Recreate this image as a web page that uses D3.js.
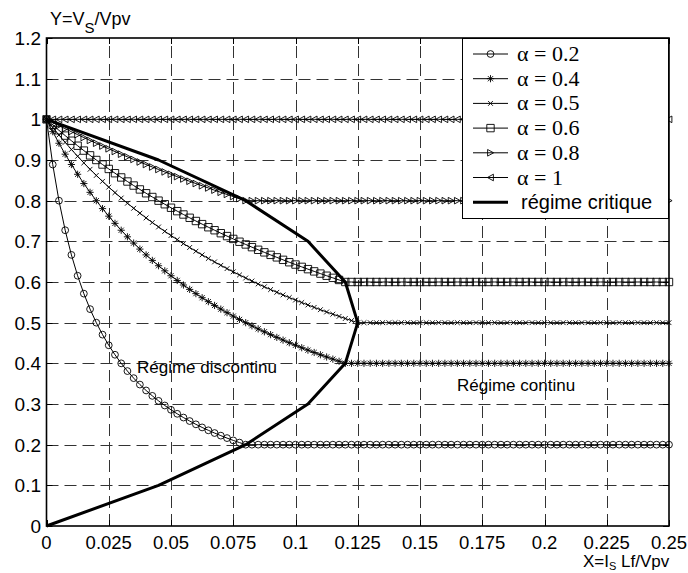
<!DOCTYPE html>
<html><head><meta charset="utf-8">
<script src="https://cdn.jsdelivr.net/npm/d3@7"></script>
<style>body{margin:0;background:#fff}</style>
</head><body><svg id="c" width="688" height="573"></svg>
<script>
// ---------------- data ----------------
const xValues = [
0,0.0025,0.005,0.0075,0.01,0.0125,0.015,0.0175,0.02,0.0225,
0.025,0.0275,0.03,0.0325,0.035,0.0375,0.04,0.0425,0.045,0.0475,
0.05,0.0525,0.055,0.0575,0.06,0.0625,0.065,0.0675,0.07,0.0725,
0.075,0.0775,0.08,0.0825,0.085,0.0875,0.09,0.0925,0.095,0.0975,
0.1,0.1025,0.105,0.1075,0.11,0.1125,0.115,0.1175,0.12,0.1225,
0.125,0.1275,0.13,0.1325,0.135,0.1375,0.14,0.1425,0.145,0.1475,
0.15,0.1525,0.155,0.1575,0.16,0.1625,0.165,0.1675,0.17,0.1725,
0.175,0.1775,0.18,0.1825,0.185,0.1875,0.19,0.1925,0.195,0.1975,
0.2,0.2025,0.205,0.2075,0.21,0.2125,0.215,0.2175,0.22,0.2225,
0.225,0.2275,0.23,0.2325,0.235,0.2375,0.24,0.2425,0.245,0.2475,
0.25];

const yAlpha02 = [
1,0.8889,0.8,0.7273,0.6667,0.6154,0.5714,0.5333,0.5,0.4706,
0.4444,0.4211,0.4,0.381,0.3636,0.3478,0.3333,0.32,0.3077,0.2963,
0.2857,0.2759,0.2667,0.2581,0.25,0.2424,0.2353,0.2286,0.2222,0.2162,
0.2105,0.2051,0.2,0.2,0.2,0.2,0.2,0.2,0.2,0.2,
0.2,0.2,0.2,0.2,0.2,0.2,0.2,0.2,0.2,0.2,
0.2,0.2,0.2,0.2,0.2,0.2,0.2,0.2,0.2,0.2,
0.2,0.2,0.2,0.2,0.2,0.2,0.2,0.2,0.2,0.2,
0.2,0.2,0.2,0.2,0.2,0.2,0.2,0.2,0.2,0.2,
0.2,0.2,0.2,0.2,0.2,0.2,0.2,0.2,0.2,0.2,
0.2,0.2,0.2,0.2,0.2,0.2,0.2,0.2,0.2,0.2,
0.2];

const yAlpha04 = [
1,0.9697,0.9412,0.9143,0.8889,0.8649,0.8421,0.8205,0.8,0.7805,
0.7619,0.7442,0.7273,0.7111,0.6957,0.6809,0.6667,0.6531,0.64,0.6275,
0.6154,0.6038,0.5926,0.5818,0.5714,0.5614,0.5517,0.5424,0.5333,0.5246,
0.5161,0.5079,0.5,0.4923,0.4848,0.4776,0.4706,0.4638,0.4571,0.4507,
0.4444,0.4384,0.4324,0.4267,0.4211,0.4156,0.4103,0.4051,0.4,0.4,
0.4,0.4,0.4,0.4,0.4,0.4,0.4,0.4,0.4,0.4,
0.4,0.4,0.4,0.4,0.4,0.4,0.4,0.4,0.4,0.4,
0.4,0.4,0.4,0.4,0.4,0.4,0.4,0.4,0.4,0.4,
0.4,0.4,0.4,0.4,0.4,0.4,0.4,0.4,0.4,0.4,
0.4,0.4,0.4,0.4,0.4,0.4,0.4,0.4,0.4,0.4,
0.4];

const yAlpha05 = [
1,0.9804,0.9615,0.9434,0.9259,0.9091,0.8929,0.8772,0.8621,0.8475,
0.8333,0.8197,0.8065,0.7937,0.7813,0.7692,0.7576,0.7463,0.7353,0.7246,
0.7143,0.7042,0.6944,0.6849,0.6757,0.6667,0.6579,0.6494,0.641,0.6329,
0.625,0.6173,0.6098,0.6024,0.5952,0.5882,0.5814,0.5747,0.5682,0.5618,
0.5556,0.5495,0.5435,0.5376,0.5319,0.5263,0.5208,0.5155,0.5102,0.5051,
0.5,0.5,0.5,0.5,0.5,0.5,0.5,0.5,0.5,0.5,
0.5,0.5,0.5,0.5,0.5,0.5,0.5,0.5,0.5,0.5,
0.5,0.5,0.5,0.5,0.5,0.5,0.5,0.5,0.5,0.5,
0.5,0.5,0.5,0.5,0.5,0.5,0.5,0.5,0.5,0.5,
0.5,0.5,0.5,0.5,0.5,0.5,0.5,0.5,0.5,0.5,
0.5];

const yAlpha06 = [
1,0.9863,0.973,0.96,0.9474,0.9351,0.9231,0.9114,0.9,0.8889,
0.878,0.8675,0.8571,0.8471,0.8372,0.8276,0.8182,0.809,0.8,0.7912,
0.7826,0.7742,0.766,0.7579,0.75,0.7423,0.7347,0.7273,0.72,0.7129,
0.7059,0.699,0.6923,0.6857,0.6792,0.6729,0.6667,0.6606,0.6545,0.6486,
0.6429,0.6372,0.6316,0.6261,0.6207,0.6154,0.6102,0.605,0.6,0.6,
0.6,0.6,0.6,0.6,0.6,0.6,0.6,0.6,0.6,0.6,
0.6,0.6,0.6,0.6,0.6,0.6,0.6,0.6,0.6,0.6,
0.6,0.6,0.6,0.6,0.6,0.6,0.6,0.6,0.6,0.6,
0.6,0.6,0.6,0.6,0.6,0.6,0.6,0.6,0.6,0.6,
0.6,0.6,0.6,0.6,0.6,0.6,0.6,0.6,0.6,0.6,
0.6];

const yAlpha08 = [
1,0.9922,0.9846,0.9771,0.9697,0.9624,0.9552,0.9481,0.9412,0.9343,
0.9275,0.9209,0.9143,0.9078,0.9014,0.8951,0.8889,0.8828,0.8767,0.8707,
0.8649,0.8591,0.8533,0.8477,0.8421,0.8366,0.8312,0.8258,0.8205,0.8153,
0.8101,0.805,0.8,0.8,0.8,0.8,0.8,0.8,0.8,0.8,
0.8,0.8,0.8,0.8,0.8,0.8,0.8,0.8,0.8,0.8,
0.8,0.8,0.8,0.8,0.8,0.8,0.8,0.8,0.8,0.8,
0.8,0.8,0.8,0.8,0.8,0.8,0.8,0.8,0.8,0.8,
0.8,0.8,0.8,0.8,0.8,0.8,0.8,0.8,0.8,0.8,
0.8,0.8,0.8,0.8,0.8,0.8,0.8,0.8,0.8,0.8,
0.8,0.8,0.8,0.8,0.8,0.8,0.8,0.8,0.8,0.8,
0.8];

const yAlpha10 = [
1,1,1,1,1,1,1,1,1,1,
1,1,1,1,1,1,1,1,1,1,
1,1,1,1,1,1,1,1,1,1,
1,1,1,1,1,1,1,1,1,1,
1,1,1,1,1,1,1,1,1,1,
1,1,1,1,1,1,1,1,1,1,
1,1,1,1,1,1,1,1,1,1,
1,1,1,1,1,1,1,1,1,1,
1,1,1,1,1,1,1,1,1,1,
1,1,1,1,1,1,1,1,1,1,
1];

const critX = [0,0.045,0.08,0.105,0.12,0.125,0.12,0.105,0.08,0.045,0];
const critY = [0,0.1,0.2,0.3,0.4,0.5,0.6,0.7,0.8,0.9,1];

const seriesLabels = ["α = 0.2","α = 0.4","α = 0.5","α = 0.6","α = 0.8","α = 1"];
const criticalLabel = "régime critique";
const xTickValues = [0,0.025,0.05,0.075,0.1,0.125,0.15,0.175,0.2,0.225,0.25];
const xTickLabels = ["0","0.025","0.05","0.075","0.1","0.125","0.15","0.175","0.2","0.225","0.25"];
const yTickValues = [0,0.1,0.2,0.3,0.4,0.5,0.6,0.7,0.8,0.9,1,1.1,1.2];
const yTickLabels = ["0","0.1","0.2","0.3","0.4","0.5","0.6","0.7","0.8","0.9","1","1.1","1.2"];

// ---------------- drawing ----------------
const svg = d3.select("#c");
const L = 46.5, R = 669, T = 38, B = 526;
const x = d3.scaleLinear().domain([0,0.25]).range([L,R]);
const y = d3.scaleLinear().domain([0,1.2]).range([B,T]);
const sans = "'Liberation Sans', Arial, Helvetica, sans-serif";
const serif = "'Liberation Serif', 'Times New Roman', serif";

svg.append("rect").attr("width",688).attr("height",573).attr("fill","#fff");

// grid
const grid = svg.append("g").attr("stroke","#333").attr("stroke-width",1).attr("stroke-dasharray","12,6").attr("fill","none");
xTickValues.slice(1,-1).forEach(v=>{
  grid.append("line").attr("x1",Math.round(x(v))+0.5).attr("x2",Math.round(x(v))+0.5).attr("y1",B).attr("y2",T);
});
yTickValues.slice(1,-1).forEach(v=>{
  grid.append("line").attr("y1",Math.round(y(v))+0.5).attr("y2",Math.round(y(v))+0.5).attr("x1",L).attr("x2",R);
});

// ticks (inward, all four sides)
const ticks = svg.append("g").attr("stroke","#000").attr("stroke-width",1);
xTickValues.forEach(v=>{
  const px = Math.round(x(v))+0.5;
  ticks.append("line").attr("x1",px).attr("x2",px).attr("y1",B).attr("y2",B-6);
  ticks.append("line").attr("x1",px).attr("x2",px).attr("y1",T).attr("y2",T+6);
});
yTickValues.forEach(v=>{
  const py = Math.round(y(v))+0.5;
  ticks.append("line").attr("y1",py).attr("y2",py).attr("x1",L).attr("x2",L+6);
  ticks.append("line").attr("y1",py).attr("y2",py).attr("x1",R).attr("x2",R-6);
});

// tick labels
const xt = svg.append("g").attr("font-family",sans).attr("font-size",18.5).attr("fill","#000").attr("text-anchor","middle");
xTickValues.forEach((v,i)=>{ xt.append("text").attr("x",x(v)).attr("y",549).text(xTickLabels[i]); });
const yt = svg.append("g").attr("font-family",sans).attr("font-size",19).attr("fill","#000").attr("text-anchor","end");
yTickValues.forEach((v,i)=>{ yt.append("text").attr("x",41).attr("y",y(v)+7).text(yTickLabels[i]); });

// markers
const markers = {
  circle: "M3.4,0A3.4,3.4 0 1,1 -3.4,0A3.4,3.4 0 1,1 3.4,0Z",
  star: "M-3.6,0L3.6,0M0,-3.6L0,3.6M-2.6,-2.6L2.6,2.6M-2.6,2.6L2.6,-2.6",
  cross: "M-2.4,-2.4L2.4,2.4M-2.4,2.4L2.4,-2.4",
  square: "M-3.7,-3.7L3.7,-3.7L3.7,3.7L-3.7,3.7Z",
  triR: "M-2.9,-3.3L3.1,0L-2.9,3.3Z",
  triL: "M2.9,-3.3L-3.1,0L2.9,3.3Z"
};
const series = [
  {ys:yAlpha02, m:"circle"},
  {ys:yAlpha04, m:"star"},
  {ys:yAlpha05, m:"cross"},
  {ys:yAlpha06, m:"square"},
  {ys:yAlpha08, m:"triR"},
  {ys:yAlpha10, m:"triL"}
];
const clip = svg.append("defs").append("clipPath").attr("id","pc");
clip.append("rect").attr("x",L-5).attr("y",T-5).attr("width",R-L+10).attr("height",B-T+10);

const plot = svg.append("g").attr("clip-path","url(#pc)");
const line = d3.line().x(d=>x(d[0])).y(d=>y(d[1]));
series.forEach(s=>{
  const pts = xValues.map((xv,i)=>[xv,s.ys[i]]).filter(d=>d[1]!==undefined);
  plot.append("path").attr("d",line(pts)).attr("fill","none").attr("stroke","#000").attr("stroke-width",1);
  plot.selectAll(null).data(pts).enter().append("path")
    .attr("transform",d=>`translate(${x(d[0])},${y(d[1])})`)
    .attr("d",markers[s.m]).attr("fill","none").attr("stroke","#000").attr("stroke-width",0.9);
});
// critical curve
plot.append("path").attr("d",line(critX.map((v,i)=>[v,critY[i]])))
  .attr("fill","none").attr("stroke","#000").attr("stroke-width",3).attr("stroke-linejoin","round");

// axes box
svg.append("rect").attr("x",L).attr("y",T).attr("width",R-L).attr("height",B-T)
  .attr("fill","none").attr("stroke","#000").attr("stroke-width",1.6);

// annotations
svg.append("text").attr("x",457).attr("y",391).attr("font-family",sans).attr("font-size",17).text("Régime continu");
svg.append("text").attr("x",137).attr("y",373).attr("font-family",sans).attr("font-size",17).text("Régime discontinu");

// axis labels
const yl = svg.append("text").attr("x",50).attr("y",25).attr("font-family",sans).attr("font-size",18);
yl.append("tspan").text("Y=V");
yl.append("tspan").attr("dy",8).attr("font-size",15).text("S");
yl.append("tspan").attr("dy",-8).text("/Vpv");
const xl = svg.append("text").attr("x",583).attr("y",567).attr("font-family",sans).attr("font-size",17);
xl.append("tspan").text("X=I");
xl.append("tspan").attr("dy",3).attr("font-size",11).text("S");
xl.append("tspan").attr("dy",-3).text(" Lf/Vpv");

// legend
const lg = svg.append("g");
lg.append("rect").attr("x",462.5).attr("y",38.5).attr("width",206).attr("height",180)
  .attr("fill","#fff").attr("stroke","#000").attr("stroke-width",1);
const rowY = i => 54 + i*24.7;
series.forEach((s,i)=>{
  const cy = rowY(i);
  lg.append("line").attr("x1",473).attr("x2",508).attr("y1",cy).attr("y2",cy).attr("stroke","#000").attr("stroke-width",1);
  lg.append("path").attr("transform",`translate(490.5,${cy})`).attr("d",markers[s.m]).attr("fill","none").attr("stroke","#000").attr("stroke-width",0.9);
  lg.append("text").attr("x",517).attr("y",cy+7).attr("font-family",serif).attr("font-size",22).text(seriesLabels[i]);
});
const cy6 = rowY(6);
lg.append("line").attr("x1",473).attr("x2",508).attr("y1",cy6).attr("y2",cy6).attr("stroke","#000").attr("stroke-width",3);
lg.append("text").attr("x",521).attr("y",cy6+7).attr("font-family",sans).attr("font-size",20).text(criticalLabel);
</script></body></html>
